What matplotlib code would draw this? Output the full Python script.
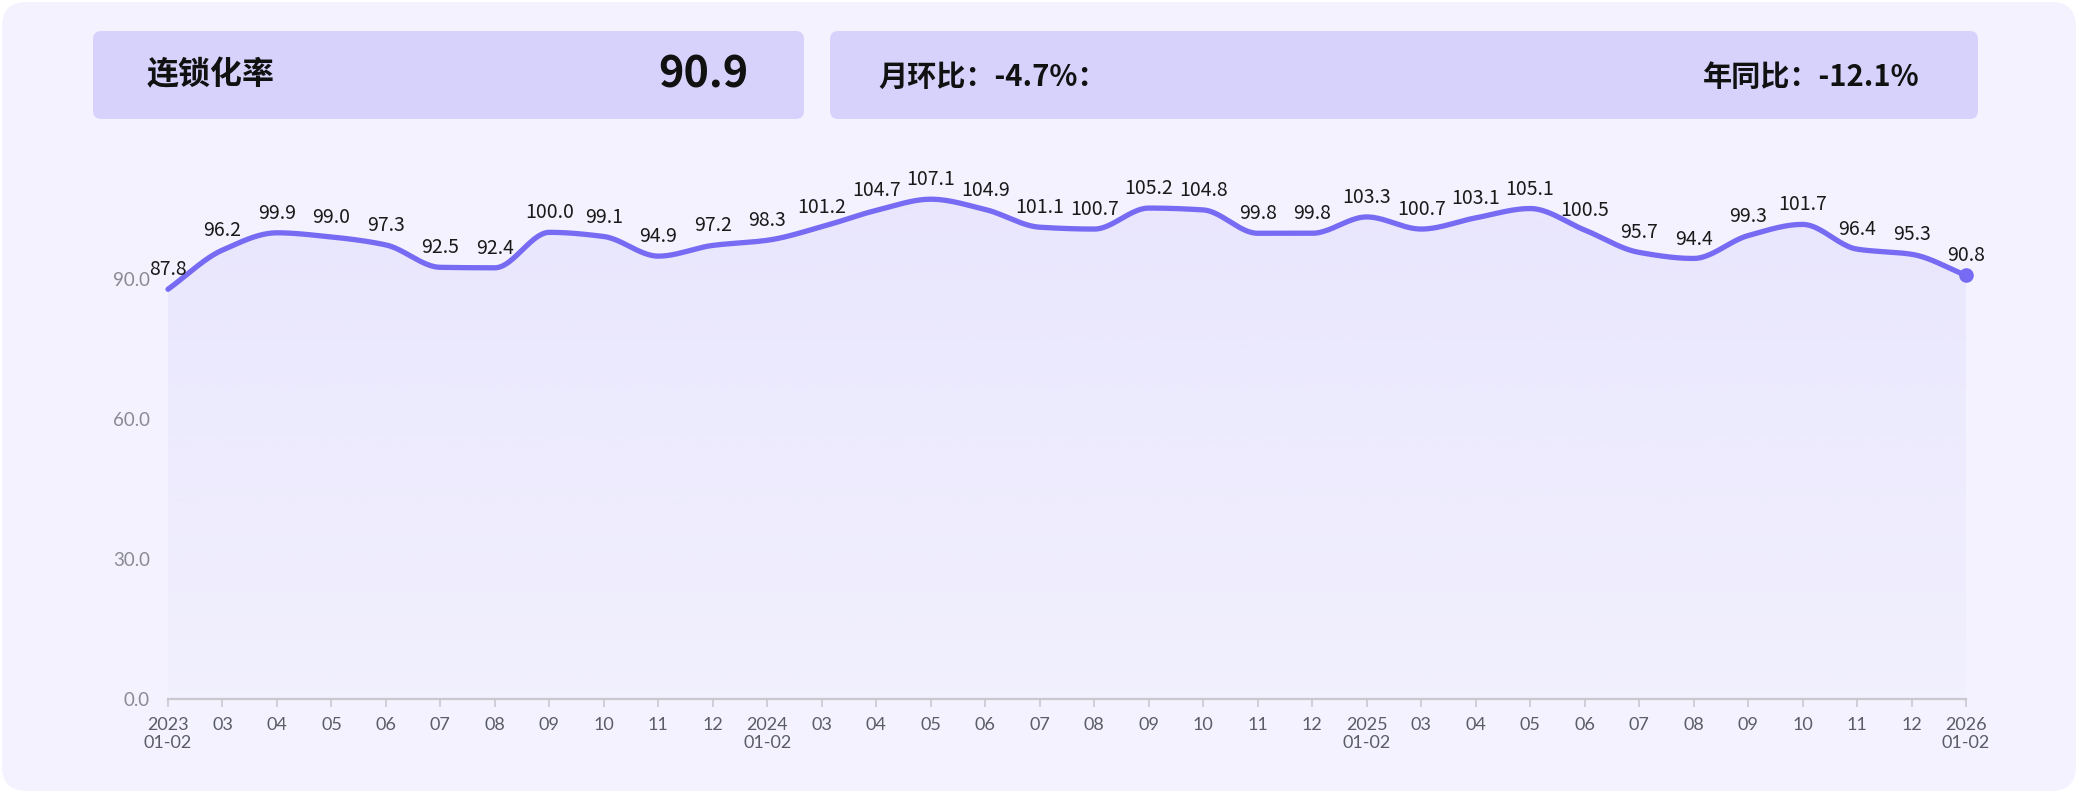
import numpy as np
import matplotlib
matplotlib.use("Agg")
import matplotlib.pyplot as plt
from matplotlib.patches import FancyBboxPatch, Polygon

plt.rcParams['font.family'] = ['Noto Sans CJK SC', 'DejaVu Sans']

# ---------------- data ----------------
title_label = "连锁化率"
title_value = "90.9"
mom_text = "月环比：-4.7%："
yoy_text = "年同比：-12.1%"

tick_labels = ["2023\n01-02", "03", "04", "05", "06", "07", "08", "09", "10", "11", "12",
               "2024\n01-02", "03", "04", "05", "06", "07", "08", "09", "10", "11", "12",
               "2025\n01-02", "03", "04", "05", "06", "07", "08", "09", "10", "11", "12",
               "2026\n01-02"]
values = [87.8, 96.2, 99.9, 99.0, 97.3, 92.5, 92.4, 100.0, 99.1, 94.9, 97.2,
          98.3, 101.2, 104.7, 107.1, 104.9, 101.1, 100.7, 105.2, 104.8, 99.8, 99.8,
          103.3, 100.7, 103.1, 105.1, 100.5, 95.7, 94.4, 99.3, 101.7, 96.4, 95.3,
          90.8]
y_ticks = [0, 30, 60, 90]

# ---------------- style ----------------
W, H = 2079, 794
LINE = "#776AF3"
BG = "#F3F2FE"
BOX = "#D6D2FC"

fig = plt.figure(figsize=(W / 100, H / 100), dpi=100)
fig.patch.set_facecolor("white")

def fx(px):
    return px / W

def fy(py):
    return 1 - py / H

# card background
card = FancyBboxPatch((fx(2), fy(791)), fx(2074), (789) / H,
                      boxstyle="round,pad=0,rounding_size=0.012",
                      transform=fig.transFigure, facecolor=BG, edgecolor="none",
                      mutation_aspect=W / H, zorder=-10)
fig.patches.append(card)

# header boxes
for (x0, x1) in [(93, 804), (830, 1978)]:
    b = FancyBboxPatch((fx(x0), fy(119)), fx(x1 - x0), 88 / H,
                       boxstyle="round,pad=0,rounding_size=0.004",
                       transform=fig.transFigure, facecolor=BOX, edgecolor="none",
                       mutation_aspect=W / H, zorder=-9)
    fig.patches.append(b)

fig.text(fx(147), fy(75), title_label, fontsize=23, ha="left", va="center",
         color="#111111", fontweight="bold")
fig.text(fx(748), fy(75), title_value, fontsize=31, ha="right", va="center",
         color="#111111", fontweight="bold")
fig.text(fx(878), fy(77), mom_text, fontsize=21, ha="left", va="center",
         color="#111111", fontweight="bold")
fig.text(fx(1920), fy(77), yoy_text, fontsize=21, ha="right", va="center",
         color="#111111", fontweight="bold")

# ---------------- chart ----------------
ax = fig.add_axes([fx(168), fy(699), fx(1966 - 168), (699 - 139) / H])
ax.set_zorder(5)
ax.set_facecolor("none")
n = len(values)
x = np.arange(n)
y = np.array(values, dtype=float)

# monotone cubic (Fritsch-Carlson) smoothing for drawing
def monotone_curve(xs, ys, per=24):
    h = np.diff(xs)
    d = np.diff(ys) / h
    m = np.zeros_like(ys)
    m[0], m[-1] = d[0], d[-1]
    for i in range(1, len(ys) - 1):
        if d[i - 1] * d[i] <= 0:
            m[i] = 0
        else:
            w1 = 2 * h[i] + h[i - 1]
            w2 = h[i] + 2 * h[i - 1]
            m[i] = (w1 + w2) / (w1 / d[i - 1] + w2 / d[i])
    X, Y = [], []
    for i in range(len(xs) - 1):
        t = np.linspace(0, 1, per, endpoint=False)
        h00 = 2 * t**3 - 3 * t**2 + 1
        h10 = t**3 - 2 * t**2 + t
        h01 = -2 * t**3 + 3 * t**2
        h11 = t**3 - t**2
        X.append(xs[i] + t * h[i])
        Y.append(h00 * ys[i] + h10 * h[i] * m[i] + h01 * ys[i + 1] + h11 * h[i] * m[i + 1])
    X.append([xs[-1]])
    Y.append([ys[-1]])
    return np.concatenate(X), np.concatenate(Y)

cx, cy = monotone_curve(x.astype(float), y)

# gradient area
poly = Polygon(np.column_stack([np.r_[cx, cx[-1], cx[0]], np.r_[cy, 0, 0]]),
               closed=True, facecolor="none", edgecolor="none", transform=ax.transData)
ax.add_patch(poly)
grad = np.linspace(1, 0, 256).reshape(-1, 1)
rgba = np.zeros((256, 1, 4))
c = matplotlib.colors.to_rgb("#C9C1FA")
rgba[..., 0], rgba[..., 1], rgba[..., 2] = c
rgba[..., 3] = 0.04 + 0.20 * grad
im = ax.imshow(rgba, extent=[0, n - 1, 0, max(values)], aspect="auto",
               origin="upper", interpolation="bilinear", zorder=1)
im.set_clip_path(poly)
ax.set_xlim(0, n - 1)
ax.set_ylim(0, 120)

ax.plot(cx, cy, color=LINE, lw=3.8, solid_capstyle="round", zorder=3, clip_on=False)
ax.plot([x[-1]], [y[-1]], "o", color=LINE, ms=9.5, zorder=4, clip_on=False)

for xi, yi in zip(x, y):
    ax.annotate(f"{yi:.1f}", (xi, yi), xytext=(0, 14), textcoords="offset points",
                ha="center", va="center", fontsize=14, color="#1a1a1a",
                family=["Noto Sans CJK SC", "DejaVu Sans"], zorder=5)

# axes styling
for s in ["top", "right", "left"]:
    ax.spines[s].set_visible(False)
ax.spines["bottom"].set_color("#C8C8CE")
ax.spines["bottom"].set_linewidth(1.6)
ax.set_xticks(x)
ax.set_xticklabels(tick_labels, fontsize=13, color="#5a5c66", linespacing=1.15,
                   family=["Lato", "DejaVu Sans"])
ax.tick_params(axis="x", length=6, width=1.2, color="#C8C8CE", pad=7)
ax.set_yticks(y_ticks)
ax.set_yticklabels([f"{v:.1f}" for v in y_ticks], fontsize=13.5, color="#8a8a92",
                   family=["Lato", "DejaVu Sans"])
ax.tick_params(axis="y", length=0, pad=13)

fig.savefig("out.png", dpi=100, facecolor=fig.get_facecolor())
